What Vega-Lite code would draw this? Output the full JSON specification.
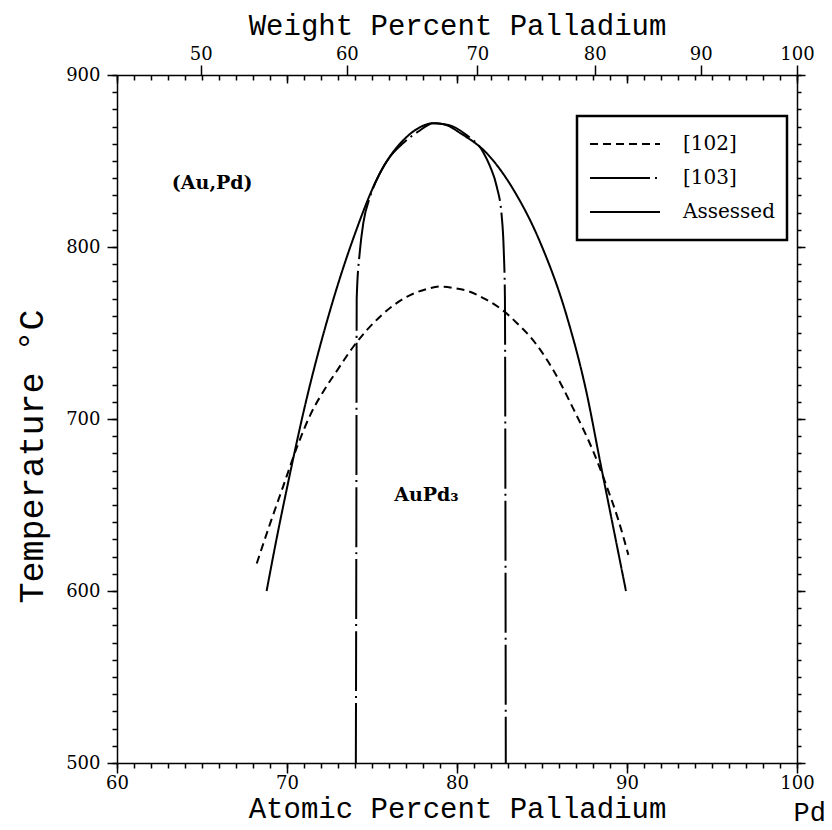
{
  "$schema": "https://vega.github.io/schema/vega-lite/v6.json",
  "width": 680,
  "height": 688,
  "autosize": {"type": "none"},
  "padding": {"left": 117, "top": 75, "right": 35, "bottom": 67},
  "background": "white",
  "config": {
    "view": {"stroke": null},
    "legend": {"strokeWidth": 2.5},
    "axis": {
      "grid": false,
      "domainColor": "black",
      "tickColor": "black",
      "labelColor": "black",
      "titleColor": "black",
      "domainWidth": 1.5,
      "tickWidth": 1.5,
      "labelFont": "DejaVu Serif",
      "labelFontSize": 18,
      "titleFont": "Liberation Mono",
      "titleFontSize": 29,
      "titleFontWeight": "normal"
    }
  },
  "datasets": {
    "curves": [
      {"series": "Assessed", "x": 68.8, "t": 600},
      {"series": "Assessed", "x": 69.4, "t": 631},
      {"series": "Assessed", "x": 69.98, "t": 659},
      {"series": "Assessed", "x": 71.16, "t": 712},
      {"series": "Assessed", "x": 72.53, "t": 763},
      {"series": "Assessed", "x": 73.9, "t": 805},
      {"series": "Assessed", "x": 75.47, "t": 843},
      {"series": "Assessed", "x": 77.04, "t": 864},
      {"series": "Assessed", "x": 77.8, "t": 869.5},
      {"series": "Assessed", "x": 78.61, "t": 872},
      {"series": "Assessed", "x": 79.4, "t": 870.8},
      {"series": "Assessed", "x": 80.18, "t": 866.3},
      {"series": "Assessed", "x": 81.75, "t": 854.5},
      {"series": "Assessed", "x": 83.31, "t": 833.5},
      {"series": "Assessed", "x": 84.88, "t": 803},
      {"series": "Assessed", "x": 86.45, "t": 760},
      {"series": "Assessed", "x": 87.63, "t": 714.9},
      {"series": "Assessed", "x": 88.41, "t": 675.7},
      {"series": "Assessed", "x": 89.19, "t": 637.1},
      {"series": "Assessed", "x": 89.94, "t": 600},
      {"series": "[102]", "x": 68.22, "t": 616},
      {"series": "[102]", "x": 69.0, "t": 639},
      {"series": "[102]", "x": 69.78, "t": 661},
      {"series": "[102]", "x": 70.6, "t": 684},
      {"series": "[102]", "x": 71.4, "t": 703},
      {"series": "[102]", "x": 72.2, "t": 717},
      {"series": "[102]", "x": 73.0, "t": 729},
      {"series": "[102]", "x": 73.9, "t": 742},
      {"series": "[102]", "x": 75.47, "t": 759.5},
      {"series": "[102]", "x": 77.04, "t": 771},
      {"series": "[102]", "x": 78.2, "t": 775.5},
      {"series": "[102]", "x": 79.0, "t": 777},
      {"series": "[102]", "x": 79.9, "t": 776},
      {"series": "[102]", "x": 80.76, "t": 774},
      {"series": "[102]", "x": 81.7, "t": 769.5},
      {"series": "[102]", "x": 82.72, "t": 763},
      {"series": "[102]", "x": 83.5, "t": 756},
      {"series": "[102]", "x": 84.29, "t": 748},
      {"series": "[102]", "x": 85.66, "t": 728.5},
      {"series": "[102]", "x": 86.84, "t": 706},
      {"series": "[102]", "x": 88.02, "t": 681},
      {"series": "[102]", "x": 88.8, "t": 661},
      {"series": "[102]", "x": 89.5, "t": 641},
      {"series": "[102]", "x": 90.08, "t": 621},
      {"series": "[103]", "x": 74.05, "t": 500},
      {"series": "[103]", "x": 74.08, "t": 640},
      {"series": "[103]", "x": 74.1, "t": 770},
      {"series": "[103]", "x": 74.29, "t": 798},
      {"series": "[103]", "x": 74.49, "t": 814},
      {"series": "[103]", "x": 74.88, "t": 829},
      {"series": "[103]", "x": 75.47, "t": 843},
      {"series": "[103]", "x": 76.06, "t": 852.5},
      {"series": "[103]", "x": 76.84, "t": 860.5},
      {"series": "[103]", "x": 77.7, "t": 867},
      {"series": "[103]", "x": 78.61, "t": 872},
      {"series": "[103]", "x": 79.5, "t": 871},
      {"series": "[103]", "x": 80.5, "t": 865.5},
      {"series": "[103]", "x": 81.55, "t": 855},
      {"series": "[103]", "x": 81.94, "t": 847},
      {"series": "[103]", "x": 82.34, "t": 835},
      {"series": "[103]", "x": 82.63, "t": 818},
      {"series": "[103]", "x": 82.75, "t": 798},
      {"series": "[103]", "x": 82.82, "t": 770},
      {"series": "[103]", "x": 82.85, "t": 640},
      {"series": "[103]", "x": 82.87, "t": 500}
    ],
    "labels": [
      {"label": "(Au,Pd)", "x": 65.6, "t": 837},
      {"label": "AuPd₃", "x": 78.2, "t": 656}
    ],
    "pd": [
      {"label": "Pd", "x": 100.75, "t": 471}
    ]
  },
  "layer": [
    {
      "data": {"name": "curves"},
      "mark": {"type": "line", "strokeWidth": 2, "color": "black", "interpolate": "monotone", "strokeCap": "butt"},
      "encoding": {
        "x": {
          "field": "x", "type": "quantitative",
          "scale": {"domain": [60, 100], "nice": false, "zero": false},
          "axis": {
            "orient": "bottom", "values": [60, 70, 80, 90, 100], "tickSize": 10, "labelPadding": 1,
            "labelFlush": false, "title": "Atomic Percent Palladium", "titleY": 45, "titleBaseline": "middle"
          }
        },
        "y": {
          "field": "t", "type": "quantitative",
          "scale": {"domain": [500, 900], "nice": false, "zero": false},
          "axis": {
            "orient": "left", "values": [500, 600, 700, 800, 900], "tickSize": 10, "labelPadding": 7,
            "labelFlush": false, "title": "Temperature °C", "titleX": -86, "titleY": 381, "titleAngle": -90,
            "titleBaseline": "middle", "titleAlign": "center", "titleFontSize": 35
          }
        },
        "strokeDash": {
          "field": "series", "type": "nominal",
          "scale": {"domain": ["[102]", "[103]", "Assessed"], "range": [[8, 5], [60, 5, 2, 5], [1, 0]]},
          "legend": {
            "title": null, "orient": "none", "legendX": 460, "legendY": 41,
            "symbolType": "stroke", "symbolSize": 4900, "symbolStrokeWidth": 2, "symbolStrokeColor": "black",
            "labelFont": "DejaVu Serif", "labelFontSize": 20, "labelColor": "black", "labelOffset": 22,
            "strokeColor": "black", "fillColor": "white", "padding": 12, "rowPadding": 2, "clipHeight": 32
          }
        }
      }
    },
    {
      "data": {"name": "labels"},
      "mark": {"type": "text", "font": "DejaVu Serif", "fontWeight": "bold", "fontSize": 19, "color": "black"},
      "encoding": {
        "x": {
          "field": "x", "type": "quantitative",
          "scale": {"domain": [60, 100], "nice": false, "zero": false},
          "axis": {
            "orient": "bottom", "labels": false, "domain": false, "title": null, "tickSize": 5,
            "values": [60,61,62,63,64,65,66,67,68,69,70,71,72,73,74,75,76,77,78,79,80,81,82,83,84,85,86,87,88,89,90,91,92,93,94,95,96,97,98,99,100]
          }
        },
        "y": {
          "field": "t", "type": "quantitative",
          "scale": {"domain": [500, 900], "nice": false, "zero": false},
          "axis": {
            "orient": "left", "labels": false, "domain": false, "title": null, "tickSize": 5,
            "values": [500,510,520,530,540,550,560,570,580,590,600,610,620,630,640,650,660,670,680,690,700,710,720,730,740,750,760,770,780,790,800,810,820,830,840,850,860,870,880,890,900]
          }
        },
        "text": {"field": "label"}
      }
    },
    {
      "data": {"name": "pd"},
      "mark": {"type": "text", "font": "Liberation Mono", "fontSize": 27, "color": "black"},
      "encoding": {
        "x": {
          "field": "x", "type": "quantitative",
          "scale": {"domain": [60, 100], "nice": false, "zero": false},
          "axis": {"orient": "top", "labels": false, "domain": false, "title": null, "tickSize": -8, "values": [60, 70, 80, 90, 100]}
        },
        "y": {
          "field": "t", "type": "quantitative",
          "scale": {"domain": [500, 900], "nice": false, "zero": false},
          "axis": {"orient": "right", "labels": false, "domain": true, "title": null, "tickSize": 8, "values": [500, 600, 700, 800, 900]}
        },
        "text": {"field": "label"}
      }
    },
    {
      "data": {"name": "pd"},
      "mark": {"type": "text", "opacity": 0, "fontSize": 1},
      "encoding": {
        "x": {
          "field": "x", "type": "quantitative",
          "scale": {"domain": [60, 100], "nice": false, "zero": false},
          "axis": {
            "orient": "top", "labels": false, "domain": false, "title": null, "tickSize": -5,
            "values": [60,61,62,63,64,65,66,67,68,69,70,71,72,73,74,75,76,77,78,79,80,81,82,83,84,85,86,87,88,89,90,91,92,93,94,95,96,97,98,99,100]
          }
        },
        "y": {
          "field": "t", "type": "quantitative",
          "scale": {"domain": [500, 900], "nice": false, "zero": false},
          "axis": {
            "orient": "right", "labels": false, "domain": false, "title": null, "tickSize": 4,
            "values": [500,510,520,530,540,550,560,570,580,590,600,610,620,630,640,650,660,670,680,690,700,710,720,730,740,750,760,770,780,790,800,810,820,830,840,850,860,870,880,890,900]
          }
        },
        "text": {"field": "label"}
      }
    },
    {
      "data": {"name": "pd"},
      "mark": {"type": "text", "opacity": 0, "fontSize": 1},
      "encoding": {
        "x": {
          "field": "x", "type": "quantitative",
          "scale": {"domain": [60, 100], "nice": false, "zero": false},
          "axis": {
            "orient": "top", "domain": true, "tickSize": 10, "labelPadding": 2, "labelFlush": false,
            "values": [64.923, 73.52, 81.198, 88.1, 94.337, 100],
            "labelExpr": "format(round(100 * datum.value * 106.42 / (datum.value * 106.42 + (100 - datum.value) * 196.97)), 'd')",
            "title": "Weight Percent Palladium", "titleY": -50, "titleBaseline": "middle"
          }
        },
        "y": {
          "field": "t", "type": "quantitative",
          "scale": {"domain": [500, 900], "nice": false, "zero": false},
          "axis": null
        },
        "text": {"field": "label"}
      }
    }
  ],
  "resolve": {"axis": {"x": "independent", "y": "independent"}}
}
